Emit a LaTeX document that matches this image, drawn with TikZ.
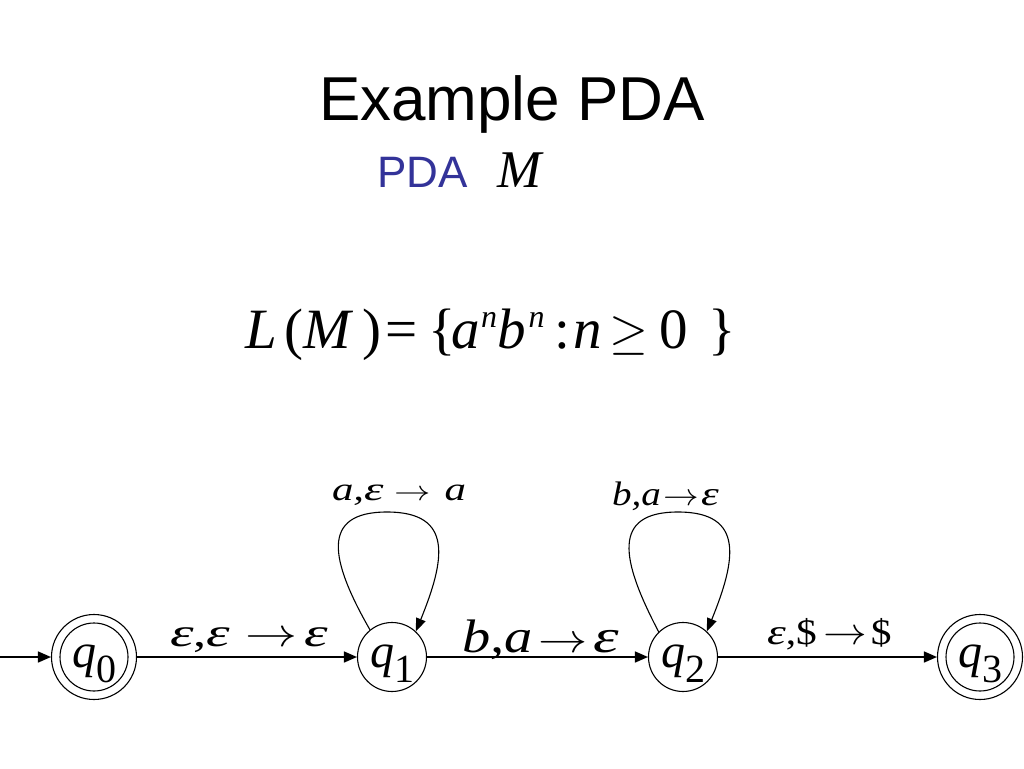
\RequirePackage{fix-cm}
\documentclass[tikz,border=0pt]{standalone}
\usepackage{graphicx}
\usepackage{fontspec}
\setmainfont{Liberation Sans}
\newfontfamily\tms{Liberation Serif}
\usetikzlibrary{arrows.meta}
\definecolor{pdablue}{RGB}{51,51,153}
\newcommand{\fsup}[2]{\raisebox{#2}{\fontsize{32}{32}\selectfont\itshape #1}}
\newcommand{\stlab}[1]{{\tms\fontsize{48}{48}\selectfont\itshape q\upshape\raisebox{-15pt}{\fontsize{40}{40}\selectfont #1}}}
\newcommand{\arr}[1]{{\fontsize{#1}{#1}\selectfont$\rightarrow$}}
\newcommand{\ep}{\scalebox{1.15}[1]{\itshape ε}}
\tikzset{
  st/.style={draw, circle, line width=1.1pt, inner sep=0pt, minimum size=69pt},
  acc/.style={draw, circle, line width=1.1pt, inner sep=0pt, minimum size=85pt},
  edge/.style={line width=1.5pt, -{Triangle[length=13pt,width=11pt]}},
  loopedge/.style={line width=1.1pt, -{Triangle[length=13pt,width=10pt]}},
  txt/.style={inner sep=0pt, outer sep=0pt, anchor=base west},
}
\begin{document}
\begin{tikzpicture}[x=1pt,y=-1pt]
\useasboundingbox (0,0) rectangle (1024,768);
% title
\node[inner sep=0pt, anchor=base] (title) at (512,120) {\fontsize{62}{62}\selectfont Example PDA};
\node[txt, text=pdablue] (pda) at (377,187) {\fontsize{44}{44}\selectfont PDA};
\node[txt] (mm) at (497,187) {\tms\fontsize{53}{53}\selectfont\itshape M};
% language
\node[txt] (lang) at (245,348) {\tms\fontsize{57}{57}\selectfont\itshape L\hspace{8pt}\upshape(\itshape M\upshape\hspace{11pt})\hspace{4pt}=\hspace{11pt}\{\hspace{-4pt}\itshape a\hspace{1pt}\fsup{n}{21pt}b\hspace{3pt}\fsup{n}{21pt}\upshape\hspace{10pt}:\hspace{3pt}\itshape n\upshape\hspace{8pt}{\fontsize{50}{50}\selectfont$\geq$}\hspace{11pt}0\hspace{20pt}\}};
% states
\node[acc] (q0) at (94,657) {};
\draw[line width=1.1pt] (q0.center) circle (34);
\node[st] (q1) at (392,657) {};
\node[st] (q2) at (683,657) {};
\node[acc] (q3) at (980,657) {};
\draw[line width=1.1pt] (q3.center) circle (34);
\node[inner sep=0pt, anchor=base] (l0) at (94,667) {\stlab{0}};
\node[inner sep=0pt, anchor=base] (l1) at (392,667) {\stlab{1}};
\node[inner sep=0pt, anchor=base] (l2) at (683,667) {\stlab{2}};
\node[inner sep=0pt, anchor=base] (l3) at (980,667) {\stlab{3}};
% edges
\coordinate (start) at (0,657);
\draw[edge] (start) -- (q0);
\draw[edge] (q0) -- (q1);
\draw[edge] (q1) -- (q2);
\draw[edge] (q2) -- (q3);
% loops
\draw[loopedge] (q1.129) .. controls (330,560) and (320,512) .. (387,512) .. controls (454,512) and (445,560) .. (q1.47);
\draw[loopedge] (q2.134) .. controls (621,560) and (611,512) .. (678,512) .. controls (745,512) and (736,560) .. (q2.47);
% edge labels
\node[txt] (e01) at (170,646) {\scalebox{1.3}[1]{\tms\fontsize{40}{40}\selectfont\ep,\ep\hspace{12pt}\arr{40}\hspace{5pt}\ep}};
\node[txt] (e12) at (462,652) {\scalebox{1.2}[1]{\tms\fontsize{47}{47}\selectfont\itshape b,a\hspace{5pt}\arr{41}\hspace{5pt}\ep}};
\node[txt] (e23) at (767,644) {\scalebox{1.15}[1]{\tms\fontsize{36}{36}\selectfont\ep,\$\hspace{6pt}\arr{38}\hspace{3pt}\$}};
\node[txt] (e11) at (332,500) {\scalebox{1.3}[1]{\tms\fontsize{33}{33}\selectfont\itshape a,\ep\hspace{8pt}\arr{28}\hspace{11pt}a}};
\node[txt] (e22) at (612,505) {\scalebox{1.15}[1]{\tms\fontsize{34}{34}\selectfont\itshape b,a\hspace{2pt}\arr{31}\hspace{2pt}\ep}};
\end{tikzpicture}
\end{document}
